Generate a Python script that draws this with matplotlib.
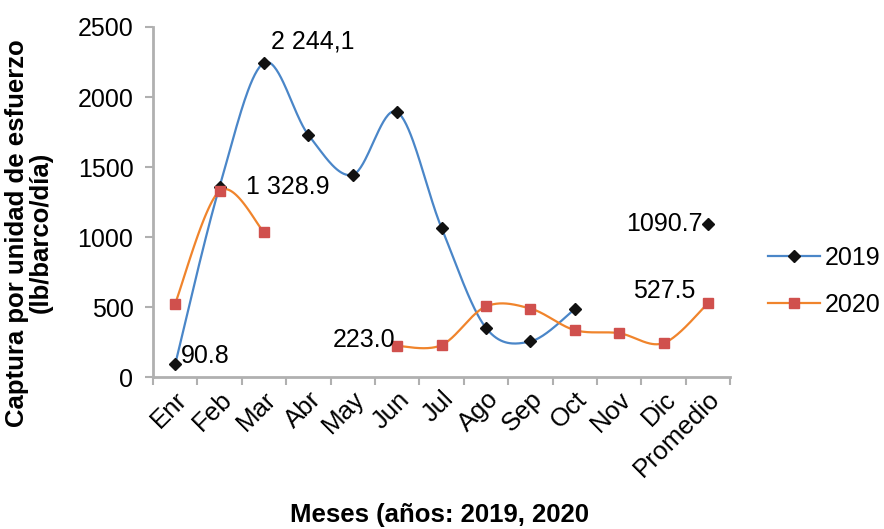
import numpy as np
import matplotlib
matplotlib.use("Agg")
import matplotlib.pyplot as plt
from matplotlib.lines import Line2D

plt.rcParams['font.family'] = ['Liberation Sans', 'DejaVu Sans']

months = ["Enr", "Feb", "Mar", "Abr", "May", "Jun", "Jul", "Ago", "Sep",
          "Oct", "Nov", "Dic", "Promedio"]
cpue_2019 = [90.8, 1360, 2244.1, 1730, 1445, 1893, 1065, 352, 255, 486,
             None, None, 1090.7]
cpue_2020 = [525, 1328.9, 1036, None, None, 223.0, 229, 505, 490, 336,
             314, 243, 527.5]

C2019_LINE = "#4a86c8"
C2020_LINE = "#f0842c"
C2020_MARK = "#d0504d"


def runs(values):
    """Split a series into consecutive (x, y) runs around missing months."""
    out, cur = [], []
    for i, v in enumerate(values):
        if v is None:
            if cur:
                out.append(cur)
            cur = []
        else:
            cur.append((i, v))
    if cur:
        out.append(cur)
    return out


def smooth(pts, n=40):
    """Catmull-Rom spline through the points (smoothed line)."""
    p = np.array(pts, dtype=float)
    if len(p) < 2:
        return p[:, 0], p[:, 1]
    ext = np.vstack([p[0], p, p[-1]])
    xs, ys = [], []
    for i in range(1, len(ext) - 2):
        p0, p1, p2, p3 = ext[i - 1], ext[i], ext[i + 1], ext[i + 2]
        t = np.linspace(0, 1, n)[:, None]
        c = 0.5 * ((2 * p1) + (-p0 + p2) * t + (2 * p0 - 5 * p1 + 4 * p2 - p3) * t ** 2
                   + (-p0 + 3 * p1 - 3 * p2 + p3) * t ** 3)
        xs.append(c[:, 0])
        ys.append(c[:, 1])
    return np.concatenate(xs), np.concatenate(ys)


fig = plt.figure(figsize=(8.84, 5.29), dpi=100)
ax = fig.add_axes([0.173, 0.287, 0.653, 0.662])

for values, lc, mc, mk, ms in [
    (cpue_2019, C2019_LINE, "#111111", "D", 6),
    (cpue_2020, C2020_LINE, C2020_MARK, "s", 7),
]:
    for r in runs(values):
        sx, sy = smooth(r)
        ax.plot(sx, sy, color=lc, lw=1.6, zorder=2)
        ax.plot([q[0] for q in r], [q[1] for q in r], ls="none", marker=mk,
                ms=ms, mfc=mc, mec=mc, zorder=3)

fs = 18
ax.text(2.15, 2244.1 + 70, "2 244,1", fontsize=fs, ha="left", va="bottom")
ax.text(1.6, 1328.9 + 30, "1 328.9", fontsize=fs, ha="left", va="center")
ax.text(0.12, 90.8 + 60, "90.8", fontsize=fs, ha="left", va="center")
ax.text(4.97, 223.0 + 40, "223.0", fontsize=fs, ha="right", va="center")
ax.text(11.72, 527.5 + 90, "527.5", fontsize=fs, ha="right", va="center")
ax.text(11.87, 1090.7, "1090.7", fontsize=fs, ha="right", va="center")

ax.set_xlim(-0.5, 12.5)
ax.set_ylim(0, 2500)
ax.set_yticks(range(0, 2501, 500))
ax.set_xticks(np.arange(-0.5, 12.6, 1))
ax.set_xticklabels([])
ax.set_xticks(range(len(months)), minor=True)
ax.set_xticklabels(months, minor=True, rotation=45, ha="right",
                   rotation_mode="anchor", fontsize=18.5)
ax.tick_params(axis="x", which="minor", length=0, pad=7)
ax.tick_params(axis="x", which="major", length=6, color="#b0b0b0", width=1.5)
ax.tick_params(axis="y", length=6, color="#b0b0b0", width=1.5, labelsize=fs, pad=8)

for s in ("top", "right"):
    ax.spines[s].set_visible(False)
for s in ("left", "bottom"):
    ax.spines[s].set_color("#b0b0b0")
    ax.spines[s].set_linewidth(2)

fig.text(0.033, 0.56, "Captura por unidad de esfuerzo\n(lb/barco/día)",
         fontsize=18.5, fontweight="bold", rotation=90, ha="center",
         va="center", linespacing=1.0)
fig.text(0.497, 0.027, "Meses (años: 2019, 2020", fontsize=18.5,
         fontweight="bold", ha="center", va="center")

handles = [
    Line2D([], [], color=C2019_LINE, lw=1.6, marker="D", ms=6,
           mfc="#111111", mec="#111111"),
    Line2D([], [], color=C2020_LINE, lw=1.6, marker="s", ms=7,
           mfc=C2020_MARK, mec=C2020_MARK),
]
fig.legend(handles, ["2019", "2020"], loc="center left",
           bbox_to_anchor=(0.843, 0.468), frameon=False, fontsize=fs,
           handlelength=2.1, handletextpad=0.2, labelspacing=0.9)

fig.savefig("out.png", dpi=100)
